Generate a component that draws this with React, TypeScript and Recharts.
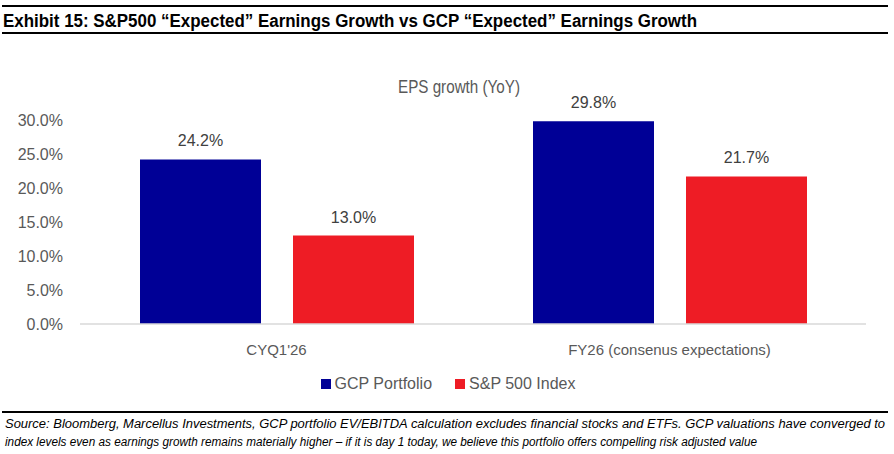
import { BarChart, Bar, XAxis, YAxis, LabelList } from "recharts";

const categories = ["CYQ1'26", "FY26 (consenus expectations)"];
const gcpPortfolio = [24.2, 29.8];
const sp500Index = [13.0, 21.7];
const yTicks = [0, 5, 10, 15, 20, 25, 30];

const data = categories.map((name, i) => ({
  name,
  gcp: gcpPortfolio[i],
  sp: sp500Index[i],
}));

const FONT = '"Liberation Sans", Arial, sans-serif';
const BLUE = "#000096";
const RED = "#EE1C25";

const LegendBox = () => (
  <div
    style={{
      position: "absolute",
      left: 0,
      top: 375,
      width: 896,
      display: "flex",
      justifyContent: "center",
      alignItems: "center",
      fontFamily: FONT,
      fontSize: 16,
      color: "#595959",
    }}
  >
    <span style={{ display: "inline-block", width: 10, height: 10, background: BLUE, marginRight: 4 }} />
    <span style={{ marginRight: 23 }}>GCP Portfolio</span>
    <span style={{ display: "inline-block", width: 10, height: 10, background: RED, marginRight: 4 }} />
    <span>S&amp;P 500 Index</span>
  </div>
);

export default function App() {
  return (
    <div style={{ position: "absolute", left: 0, top: 0, width: 894, height: 454, background: "#fff" }}>
      <svg width={894} height={454} style={{ position: "absolute", left: 0, top: 0 }}>
        <line x1={2} x2={888} y1={6} y2={6} stroke="#000" strokeWidth={2} />
        <text
          x={3}
          y={27}
          fontFamily='"Liberation Sans Narrow", "Liberation Sans", Arial, sans-serif'
          fontWeight="bold"
          fontSize={18}
          fill="#000"
          textLength={694}
          lengthAdjust="spacingAndGlyphs"
        >
          Exhibit 15: S&amp;P500 “Expected” Earnings Growth vs GCP “Expected” Earnings Growth
        </text>
        <line x1={2} x2={888} y1={33} y2={33} stroke="#000" strokeWidth={2} />
        <text x={459} y={93} textAnchor="middle" fontFamily={FONT} fontSize={19} fill="#595959" textLength={122} lengthAdjust="spacingAndGlyphs">
          EPS growth (YoY)
        </text>
        <line x1={2} x2={888} y1={412} y2={412} stroke="#000" strokeWidth={2} />
        <text x={5} y={428} fontFamily={FONT} fontStyle="italic" fontSize={12} fill="#000" textLength={880} lengthAdjust="spacingAndGlyphs">
          Source: Bloomberg, Marcellus Investments, GCP portfolio EV/EBITDA calculation excludes financial stocks and ETFs. GCP valuations have converged to
        </text>
        <text x={5} y={446} fontFamily={FONT} fontStyle="italic" fontSize={12} fill="#000" textLength={752} lengthAdjust="spacingAndGlyphs">
          index levels even as earnings growth remains materially higher – if it is day 1 today, we believe this portfolio offers compelling risk adjusted value
        </text>
      </svg>
      <div style={{ position: "absolute", left: 0, top: 0 }}>
        <BarChart
          width={894}
          height={454}
          data={data}
          margin={{ top: 120, right: 28, left: 0, bottom: 100 }}
          barCategoryGap={60}
          barGap={32}
        >
          <XAxis
            dataKey="name"
            axisLine={{ stroke: "#D9D9D9", strokeWidth: 1.5 }}
            tickLine={false}
            tickSize={0}
            tickMargin={20}
            height={30}
            tick={{ fill: "#595959", fontSize: 15, fontFamily: FONT }}
          />
          <YAxis
            width={80}
            domain={[0, 30]}
            ticks={yTicks}
            axisLine={false}
            tickLine={false}
            tickSize={0}
            tickMargin={17}
            tickFormatter={(v: number) => v.toFixed(1) + "%"}
            tick={{ fill: "#595959", fontSize: 16, fontFamily: FONT }}
          />
          <Bar dataKey="gcp" name="GCP Portfolio" fill={BLUE} isAnimationActive={false}>
            <LabelList
              dataKey="gcp"
              position="top"
              offset={13}
              formatter={(v: number) => v.toFixed(1) + "%"}
              style={{ fill: "#404040", fontSize: 16, fontFamily: FONT }}
            />
          </Bar>
          <Bar dataKey="sp" name="S&P 500 Index" fill={RED} isAnimationActive={false}>
            <LabelList
              dataKey="sp"
              position="top"
              offset={13}
              formatter={(v: number) => v.toFixed(1) + "%"}
              style={{ fill: "#404040", fontSize: 16, fontFamily: FONT }}
            />
          </Bar>
        </BarChart>
      </div>
      <LegendBox />
    </div>
  );
}
